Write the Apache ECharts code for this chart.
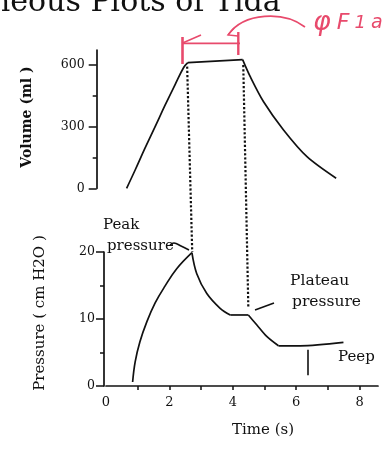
<!DOCTYPE html>
<html><head><meta charset="utf-8">
<script src="https://cdn.jsdelivr.net/npm/echarts@6/dist/echarts.min.js"></script>
<style>html,body{margin:0;padding:0;background:#fff}#c{width:389px;height:457px}</style>
</head><body><div id="c"></div>
<script>
// Volume (ml) vs time (s)
const volRise = [[0.65,0],[0.92,89],[1.23,195],[1.55,300],[1.86,403],[2.18,505],[2.45,588],[2.58,612]];
const volHold = [[2.58,612],[4.31,626]];
const volFall = [[4.31,626],[4.55,543],[4.97,421],[5.6,284],[6.34,154],[7.26,49]];
// Pressure (cm H2O) vs time (s)
const presRise = [[0.84,0.6],[0.92,3.6],[1.07,6.6],[1.29,9.6],[1.55,12.4],[1.86,14.9],[2.23,17.5],[2.71,19.9]];
const presDecay = [[2.71,19.9],[2.86,16.8],[3.18,13.8],[3.6,11.6],[3.92,10.6]];
const presPlateau = [[3.92,10.6],[4.49,10.6]];
const presFall = [[4.49,10.6],[4.76,9.1],[5.07,7.4],[5.44,6.0]];
const presPeep = [[5.44,6.0],[6.13,6.0],[7.49,6.5]];
const peepBar = [[6.35,5.4],[6.35,1.6]];
// Dotted drop lines: top point (t, ml) -> bottom point (t, cm H2O)
const dropTop = [[2.56,592],[4.33,600]];
const dropBottom = [[2.72,20],[4.49,11.6]];
// Ticks
const volLabels = [0,300,600];
const volMinor = [150,450];
const presLabels = [0,10,20];
const presMinor = [5,15];
const timeLabels = [0,2,4,6,8];
const timeTicks = [1,2,3,4,5,6,7,8];

const INK = '#111';
const SERIF = '"DejaVu Serif", serif';
const RED = '#e84a6c';

const chart = echarts.init(document.getElementById('c'), null, {renderer:'canvas'});

function line(data, xi, yi, smooth){
  return {type:'line', data, xAxisIndex:xi, yAxisIndex:yi, smooth, symbol:'none',
    clip:false, lineStyle:{color:INK, width:1.7}, animation:false, silent:true};
}
function yax(grid, max, offset, ticks, labels, len, showLine, margin){
  return {type:'value', gridIndex:grid, position:'left', min:0, max, offset, splitLine:{show:false},
    axisLine:{show:showLine, onZero:false, lineStyle:{color:INK, width:1.7}},
    axisTick:{show:true, inside:false, length:len, customValues:ticks, lineStyle:{color:INK, width:1.5}},
    axisLabel:{show:!!labels, customValues:labels||[], margin:margin||8, color:INK, fontSize:12.5, fontFamily:SERIF}};
}

const peepSeries = line(presPeep,1,2,0.3);
peepSeries.markLine = {silent:true, symbol:['none','none'], animation:false, label:{show:false},
  lineStyle:{color:INK, width:1.6, type:'solid'},
  data:[[{coord:peepBar[0]},{coord:peepBar[1]}]]};

chart.setOption({
  animation:false,
  grid:[{left:106, top:50, width:272, height:138.3},{left:106, top:252, width:272, height:134}],
  xAxis:[
    {type:'value', gridIndex:0, min:0, max:8.58, show:false},
    {type:'value', gridIndex:1, min:0, max:8.58, splitLine:{show:false},
      axisLine:{show:true, onZero:false, lineStyle:{color:INK, width:1.7}},
      axisTick:{show:true, inside:false, length:4, customValues:timeTicks, lineStyle:{color:INK, width:1.5}},
      axisLabel:{customValues:timeLabels, margin:10, color:INK, fontSize:13, fontFamily:SERIF}}
  ],
  yAxis:[
    yax(0, 673, 9.3, volLabels, volLabels, 8, true, 12),
    yax(0, 673, 9.3, volMinor, null, 4, false),
    yax(1, 20, 2, presLabels, presLabels, 8, true, 9),
    yax(1, 20, 2, presMinor, null, 4, false)
  ],
  series:[
    line(volRise,0,0,0.4), line(volHold,0,0,false), line(volFall,0,0,0.3),
    line(presRise,1,2,0.4), line(presDecay,1,2,0.35), line(presPlateau,1,2,false),
    line(presFall,1,2,0.3), peepSeries
  ]
});

const g = [];
// dotted drop lines through both grids
for (let i=0;i<dropTop.length;i++){
  const a = chart.convertToPixel({gridIndex:0}, dropTop[i]);
  const b = chart.convertToPixel({gridIndex:1}, dropBottom[i]);
  g.push({type:'line', shape:{x1:a[0],y1:a[1],x2:b[0],y2:b[1]},
    style:{stroke:INK, lineWidth:2.2, lineDash:[2.2,2]}, silent:true});
}
function txt(t, x, y, size, opts){
  return Object.assign({type:'text', silent:true, x, y,
    style:{text:t, font:(opts&&opts.weight||'normal')+' '+size+'px '+SERIF, fill:INK,
      align:(opts&&opts.align)||'left', verticalAlign:(opts&&opts.va)||'middle'}}, opts&&opts.extra||{});
}
g.push(txt('neous Plots of Tida', -9, 18, 30, {va:'bottom'}));
g.push(Object.assign(txt('Volume (ml )', 27, 117, 14, {weight:'bold', align:'center'}), {rotation:Math.PI/2}));
g.push(Object.assign(txt('Pressure ( cm H2O )', 40, 313, 15, {align:'center'}), {rotation:Math.PI/2}));
g.push(txt('Time (s)', 263, 430, 15, {align:'center'}));
g.push(txt('Peak', 103, 225, 15));
g.push(txt('pressure', 107, 246, 15));
g.push(txt('Plateau', 290, 281, 15.5));
g.push(txt('pressure', 292, 302, 15.5));
g.push(txt('Peep', 338, 357, 15));
// connectors
g.push({type:'polyline', silent:true, shape:{points:[[170,245],[174,243],[181,246],[189,250]], smooth:0.4},
  style:{stroke:INK, lineWidth:1.6, fill:null}});
g.push({type:'line', silent:true, shape:{x1:255,y1:310,x2:274,y2:303}, style:{stroke:INK, lineWidth:1.6}});
// red handwritten annotation
g.push({type:'line', silent:true, shape:{x1:182,y1:43.3,x2:240,y2:43.3}, style:{stroke:RED, lineWidth:1.8}});
g.push({type:'line', silent:true, shape:{x1:182,y1:43.3,x2:201,y2:35}, style:{stroke:RED, lineWidth:1.6}});
g.push({type:'line', silent:true, shape:{x1:182.5,y1:37,x2:182.5,y2:64}, style:{stroke:RED, lineWidth:2.6}});
g.push({type:'line', silent:true, shape:{x1:238.3,y1:32,x2:238.3,y2:55}, style:{stroke:RED, lineWidth:2.4}});
g.push({type:'bezierCurve', silent:true, shape:{x1:305,y1:27,cpx1:284,cpy1:11,cpx2:244,cpy2:12,x2:228,y2:35},
  style:{stroke:RED, lineWidth:1.6, fill:null}});
g.push({type:'polyline', silent:true, shape:{points:[[234,28],[228,35],[238,36]]}, style:{stroke:RED, lineWidth:1.4, fill:null}});
g.push({type:'text', silent:true, x:313, y:23, style:{
  text:'{a|φ}{b|F}{c|1}{d|a}', verticalAlign:'middle', fill:RED,
  rich:{a:{fontSize:27, fontFamily:'"DejaVu Sans", sans-serif', fontStyle:'italic', fill:RED, padding:[0,6,0,0]},
        b:{fontSize:22, fontFamily:'"DejaVu Sans", sans-serif', fontStyle:'italic', fill:RED, padding:[0,5,0,0]},
        c:{fontSize:18, fontFamily:'"DejaVu Sans", sans-serif', fontStyle:'italic', fill:RED, padding:[0,5,0,0]},
        d:{fontSize:19, fontFamily:'"DejaVu Sans", sans-serif', fontStyle:'italic', fill:RED}}}});
chart.setOption({graphic:g});
</script></body></html>
